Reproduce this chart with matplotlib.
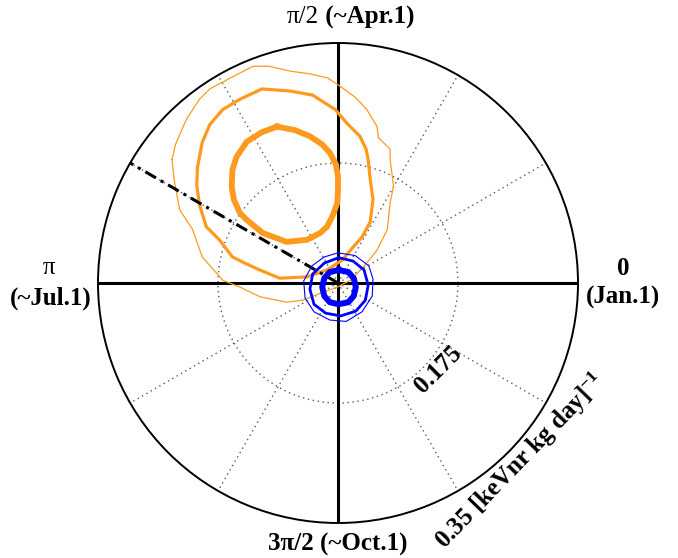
import numpy as np
import matplotlib
matplotlib.use('Agg')
import matplotlib.pyplot as plt

plt.rcParams['font.family'] = ['Liberation Serif', 'DejaVu Serif']
plt.rcParams['mathtext.fontset'] = 'custom'
plt.rcParams['mathtext.rm'] = 'Liberation Serif'
plt.rcParams['mathtext.bf'] = 'Liberation Serif:bold'
plt.rcParams['mathtext.default'] = 'bf'

# ---- data (modulation components, keVnr kg day)^-1 : x = A cos(phi), y = A sin(phi)
r_max = 0.35
r_tick = 0.175
expected_phase_deg = 150

orange_1_x = [-0.089, -0.063, -0.041, -0.023, -0.012, -0.003, 0.000, 0.000, -0.001, -0.007,
              -0.016, -0.026, -0.045, -0.075, -0.110, -0.133, -0.143, -0.152, -0.155, -0.154,
              -0.148, -0.133, -0.111]
orange_1_y = [0.228, 0.223, 0.214, 0.202, 0.190, 0.173, 0.155, 0.136, 0.117, 0.100,
              0.082, 0.073, 0.063, 0.060, 0.073, 0.092, 0.102, 0.122, 0.141, 0.165,
              0.184, 0.206, 0.220]

orange_2_x = [-0.205, -0.206, -0.202, -0.192, -0.173, -0.154, -0.136, -0.114, -0.085, -0.045,
              -0.016, 0.007, 0.020, 0.035, 0.047, 0.051, 0.047, 0.044, 0.041, 0.032,
              0.013, -0.004, -0.037, -0.070, -0.111, -0.143, -0.168, -0.187, -0.198]
orange_2_y = [0.168, 0.143, 0.114, 0.082, 0.063, 0.038, 0.029, 0.019, 0.007, 0.009,
              0.019, 0.034, 0.050, 0.067, 0.089, 0.122, 0.151, 0.180, 0.195, 0.214,
              0.233, 0.253, 0.274, 0.280, 0.283, 0.268, 0.253, 0.231, 0.205]

orange_3_x = [-0.242, -0.239, -0.231, -0.212, -0.198, -0.168, -0.143, -0.114, -0.075, -0.051,
              -0.026, -0.001, 0.018, 0.037, 0.057, 0.072, 0.076, 0.081, 0.076, 0.076,
              0.059, 0.057, 0.042, 0.025, 0.003, -0.015, -0.041, -0.070, -0.100, -0.124,
              -0.155, -0.187, -0.202, -0.221, -0.237]
orange_3_y = [0.180, 0.151, 0.107, 0.078, 0.038, 0.004, -0.006, -0.020, -0.028, -0.025,
              -0.015, -0.006, 0.004, 0.023, 0.048, 0.078, 0.117, 0.141, 0.180, 0.195,
              0.212, 0.228, 0.253, 0.271, 0.287, 0.299, 0.305, 0.309, 0.316, 0.316,
              0.300, 0.283, 0.268, 0.239, 0.202]

blue_1_x = [0.001, 0.015, 0.023, 0.026, 0.023, 0.015, 0.001, -0.012, -0.020, -0.023, -0.020, -0.012]
blue_1_y = [0.019, 0.016, 0.007, -0.006, -0.019, -0.028, -0.031, -0.028, -0.019, -0.006, 0.007, 0.016]

blue_2_x = [0.001, 0.022, 0.038, 0.044, 0.040, 0.026, 0.004, -0.018, -0.035, -0.041, -0.037, -0.020]
blue_2_y = [0.037, 0.032, 0.019, -0.003, -0.025, -0.041, -0.048, -0.044, -0.031, -0.009, 0.013, 0.029]

blue_3_x = [0.000, 0.025, 0.045, 0.051, 0.050, 0.035, 0.012, -0.012, -0.035, -0.048, -0.050, -0.038, -0.020]
blue_3_y = [0.044, 0.040, 0.025, 0.006, -0.019, -0.042, -0.056, -0.054, -0.042, -0.022, 0.003, 0.025, 0.038]

theta_grid_deg = list(range(0, 360, 30))

ORANGE = '#FF9A1F'
BLUE = '#0000FF'


def closed_polar(x, y):
    x = np.asarray(list(x) + [x[0]])
    y = np.asarray(list(y) + [y[0]])
    return np.arctan2(y, x), np.hypot(x, y)


fig = plt.figure(figsize=(6.78, 5.58), dpi=100)
ax = fig.add_axes([0.14454, 0.06272, 0.70796, 0.86022], projection='polar')

ax.set_thetagrids(theta_grid_deg, labels=[''] * len(theta_grid_deg))
ax.set_rgrids([r_tick], labels=[''])
ax.xaxis.grid(True, linestyle=(0, (1, 2.6)), color='0.35', linewidth=1.0)
ax.yaxis.grid(True, linestyle=(0, (1, 2.6)), color='0.35', linewidth=1.0)
ax.spines['polar'].set_linewidth(1.4)
ax.spines['polar'].set_color('black')

# axes cross
for th in [0, np.pi / 2, np.pi, 3 * np.pi / 2]:
    ax.axvline(th, color='black', lw=2.2, zorder=2.5)

# contours
for (cx, cy), lw in zip([(orange_3_x, orange_3_y), (orange_2_x, orange_2_y), (orange_1_x, orange_1_y)],
                        [0.9, 2.3, 4.2]):
    t, r = closed_polar(cx, cy)
    ax.plot(t, r, color=ORANGE, lw=lw, solid_joinstyle='miter', zorder=3)

# expected phase line
ph = np.deg2rad(expected_phase_deg)
ax.plot([ph, ph], [0, r_max], color='black', lw=2.2, linestyle=(0, (4, 1.8, 1, 1.8)), zorder=3.5)

for (cx, cy), lw in zip([(blue_3_x, blue_3_y), (blue_2_x, blue_2_y), (blue_1_x, blue_1_y)],
                        [0.8, 2.0, 4.3]):
    t, r = closed_polar(cx, cy)
    ax.plot(t, r, color=BLUE, lw=lw, zorder=4)

ax.set_thetalim(0, 2 * np.pi)
ax.set_rlim(0, r_max)

FS = 18
kw = dict(textcoords='offset pixels', ha='center', va='center', fontsize=FS, annotation_clip=False)
# right
ax.annotate('0', xy=(0, r_max), xytext=(45, 15), fontweight='bold', **kw)
ax.annotate('(Jan.1)', xy=(0, r_max), xytext=(45, -14), fontweight='bold', **kw)
# left
ax.annotate('π', xy=(np.pi, r_max), xytext=(-49, 15), fontweight='normal', **kw)
ax.annotate('(~Jul.1)', xy=(np.pi, r_max), xytext=(-47, -15), fontweight='bold', **kw)
# top
ax.annotate('π/2', xy=(np.pi / 2, r_max), xytext=(-19, 26), fontweight='normal',
            textcoords='offset pixels', ha='right', va='center', fontsize=FS, annotation_clip=False)
ax.annotate(' (~Apr.1)', xy=(np.pi / 2, r_max), xytext=(-19, 26), fontweight='bold',
            textcoords='offset pixels', ha='left', va='center', fontsize=FS, annotation_clip=False)
# bottom
ax.annotate('3π/2 (~Oct.1)', xy=(3 * np.pi / 2, r_max), xytext=(0, -21), fontweight='bold', **kw)

# radial labels
ax.text(np.deg2rad(-41), 0.193, f'{r_tick:g}', rotation=45, rotation_mode='anchor',
        ha='center', va='center', fontsize=FS, fontweight='bold', clip_on=False)
ax.text(np.deg2rad(-44.4), 0.372, f'{r_max:g} [keVnr kg day]' + r'$^{-1}$', rotation=46,
        rotation_mode='anchor', ha='center', va='center', fontsize=FS, fontweight='bold', clip_on=False)

fig.savefig('out.png', dpi=100)
